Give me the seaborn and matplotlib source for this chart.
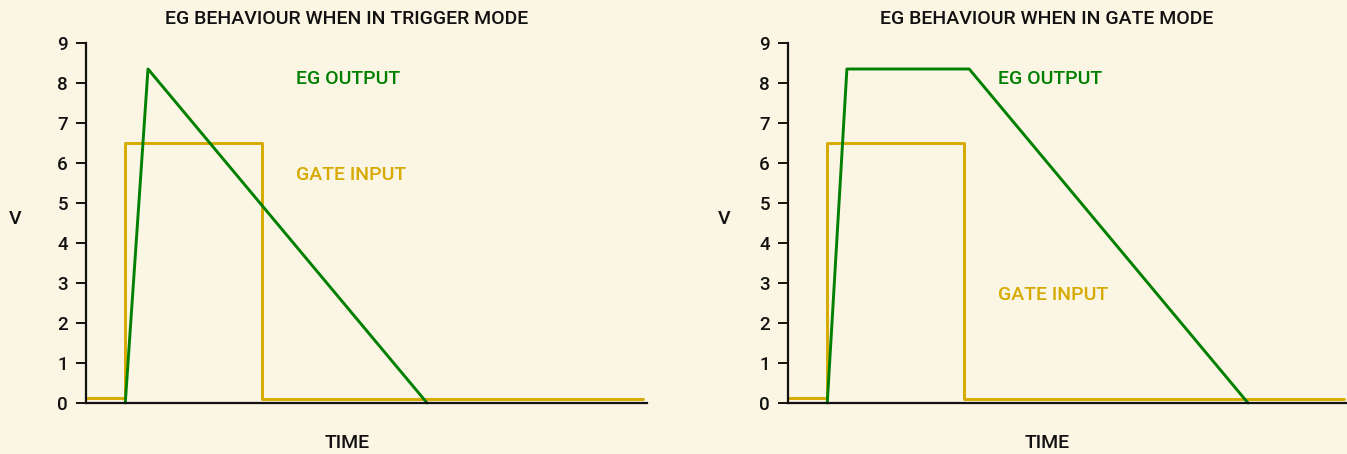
import numpy as np
import pandas as pd
import seaborn as sns
import matplotlib.pyplot as plt

# time axis runs 0..100 (arbitrary units), voltage 0..9
trig_gate_t = [0.0, 6.95, 6.95, 31.4, 31.4, 99.3]
trig_gate_v = [0.12, 0.12, 6.5, 6.5, 0.1, 0.1]
trig_eg_t = [7.0, 11.05, 60.8]
trig_eg_v = [0.0, 8.35, 0.0]

gate_gate_t = [0.0, 6.9, 6.9, 31.3, 31.3, 99.1]
gate_gate_v = [0.12, 0.12, 6.5, 6.5, 0.1, 0.1]
gate_eg_t = [7.0, 10.5, 32.3, 82.0]
gate_eg_v = [0.0, 8.35, 8.35, 0.0]

titles = ["EG BEHAVIOUR WHEN IN TRIGGER MODE", "EG BEHAVIOUR WHEN IN GATE MODE"]
yticks = list(range(0, 10))

BG = "#FBF5E3"
GOLD = "#D6AA00"
GREEN = "#008000"
INK = "#111111"

sns.set_theme(style="ticks")
plt.rcParams["font.family"] = ["Roboto", "DejaVu Sans"]
plt.rcParams["font.weight"] = "medium"
plt.rcParams["text.color"] = INK
plt.rcParams["axes.labelcolor"] = INK
plt.rcParams["xtick.color"] = INK
plt.rcParams["ytick.color"] = INK

fig = plt.figure(figsize=(13.47, 4.54), dpi=100)
fig.patch.set_facecolor(BG)

ax_left = fig.add_axes([86 / 1347, 51 / 454, 561 / 1347, 360 / 454])
ax_right = fig.add_axes([788 / 1347, 51 / 454, 561 / 1347, 360 / 454])

panels = [
    (ax_left, trig_gate_t, trig_gate_v, trig_eg_t, trig_eg_v, titles[0],
     (8.1, 5.7), -0.127, 0.465),
    (ax_right, gate_gate_t, gate_gate_v, gate_eg_t, gate_eg_v, titles[1],
     (8.1, 2.7), -0.114, 0.462),
]

for ax, gt, gv, et, ev, title, label_y, vx, cx in panels:
    ax.set_facecolor(BG)
    gate = pd.DataFrame({"t": gt, "v": gv})
    eg = pd.DataFrame({"t": et, "v": ev})
    sns.lineplot(data=gate, x="t", y="v", ax=ax, color=GOLD, linewidth=2.1,
                 estimator=None, sort=False, clip_on=False)
    sns.lineplot(data=eg, x="t", y="v", ax=ax, color=GREEN, linewidth=2.1,
                 estimator=None, sort=False, clip_on=False)

    ax.set_xlim(0, 100)
    ax.set_ylim(0, 9)
    ax.set_yticks(yticks)
    ax.set_xticks([])
    sns.despine(ax=ax)
    for side in ["left", "bottom"]:
        ax.spines[side].set_linewidth(1.6)
        ax.spines[side].set_color(INK)
    ax.tick_params(axis="y", length=7, width=1.4, pad=6, labelsize=13.5)
    for lab in ax.get_yticklabels():
        lab.set_fontweight("medium")

    ax.text(37.4, label_y[0], "EG OUTPUT", color=GREEN, fontsize=14,
            fontweight="medium", va="center", ha="left")
    ax.text(37.5, label_y[1], "GATE INPUT", color=GOLD, fontsize=14,
            fontweight="medium", va="center", ha="left")

    ax.set_title("")
    ax.text(cx, 1.067, title, transform=ax.transAxes, ha="center", va="center",
            fontsize=14, fontweight="medium")
    ax.set_xlabel("")
    ax.set_ylabel("")
    ax.text(cx, -0.111, "TIME", transform=ax.transAxes, ha="center", va="center",
            fontsize=14, fontweight="medium")
    ax.text(vx, 0.511, "V", transform=ax.transAxes, ha="center", va="center",
            fontsize=14, fontweight="medium")

fig.savefig("out.png", dpi=100, facecolor=BG)
